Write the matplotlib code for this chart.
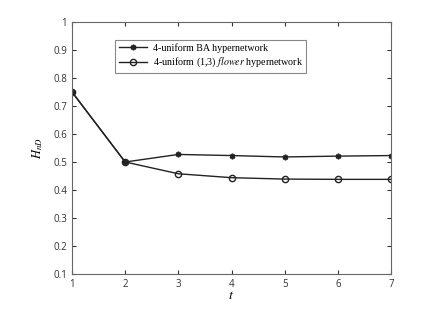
import matplotlib
matplotlib.use("Agg")
import matplotlib.pyplot as plt

# data
t = [1, 2, 3, 4, 5, 6, 7]
ba = [0.75, 0.50, 0.527, 0.523, 0.518, 0.521, 0.523]
flower = [0.75, 0.50, 0.458, 0.444, 0.439, 0.438, 0.438]
labels = ["4-uniform BA hypernetwork", "4-uniform (1,3) $\\it{flower}$ hypernetwork"]

plt.rcParams['font.family'] = 'Open Sans'
plt.rcParams['mathtext.fontset'] = 'stix'

fig = plt.figure(figsize=(4.37, 3.22), dpi=100)
ax = fig.add_axes([72 / 437, 48 / 322, 319 / 437, 252 / 322])

ax.plot(t, ba, color='#222222', lw=1, marker=(6, 2, 0), ms=4, mew=1.2,
        label=labels[0])
ax.plot(t, flower, color='#222222', lw=1, marker='o', ms=4.5, mfc='none',
        mew=1, label=labels[1])

ax.set_xlim(1, 7)
ax.set_ylim(0.1, 1)
ax.set_xticks(t)
ax.set_yticks([0.1, 0.2, 0.3, 0.4, 0.5, 0.6, 0.7, 0.8, 0.9, 1])
ax.set_yticklabels(['0.1', '0.2', '0.3', '0.4', '0.5', '0.6', '0.7', '0.8', '0.9', '1'])
ax.tick_params(direction='in', length=3, labelsize=7, colors='#333333',
               top=True, right=True, labeltop=False, labelright=False)
for s in ax.spines.values():
    s.set_color('#666666')
    s.set_linewidth(0.8)

ax.set_xlabel('$t$', fontsize=10, labelpad=-1)
ax.set_ylabel('$H_{nD}$', fontsize=9, labelpad=6)

leg = ax.legend(loc='upper left', bbox_to_anchor=(0.135, 0.93),
                prop={'family': 'Liberation Serif', 'size': 7.2},
                fancybox=False, edgecolor='#888888', framealpha=1,
                handlelength=2.8, borderpad=0.35, labelspacing=0.3,
                handletextpad=0.6, borderaxespad=0)
leg.get_frame().set_linewidth(0.8)

fig.savefig('out.png', dpi=100)
